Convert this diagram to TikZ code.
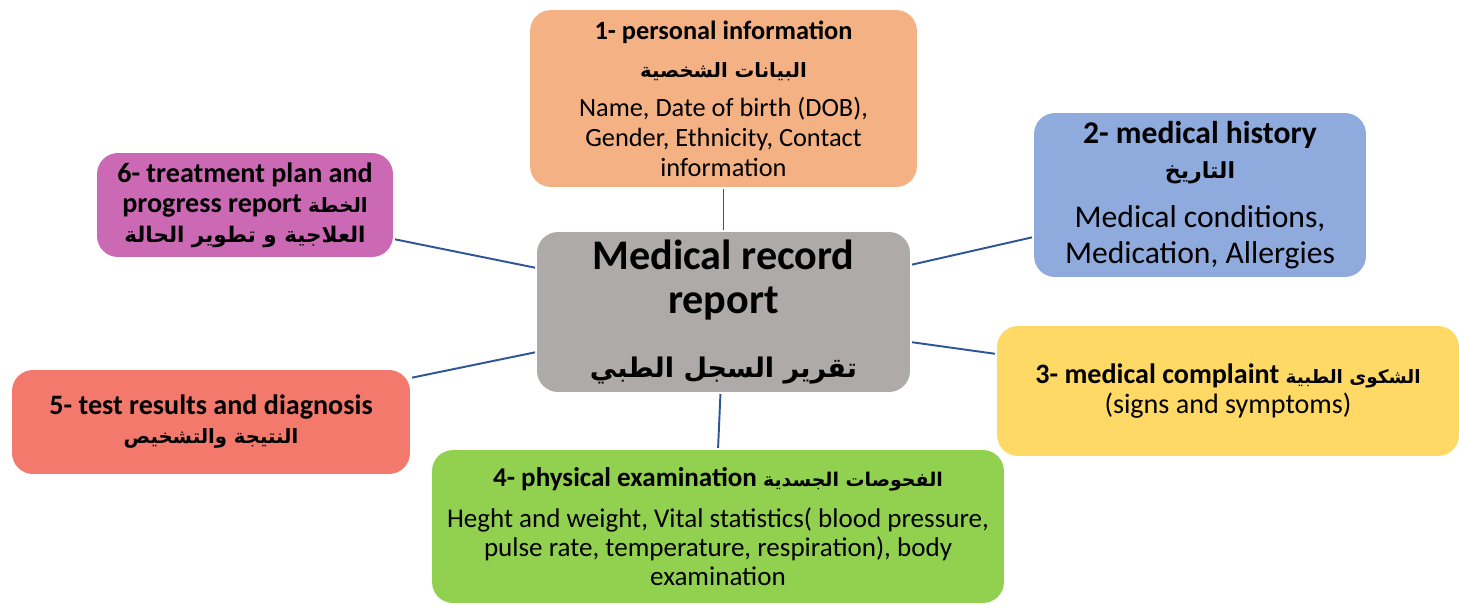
\documentclass[tikz,border=0pt]{standalone}
\usepackage{fontspec}
\setmainfont{Carlito}
\newfontfamily\arabicfont[Script=Arabic,Scale=0.7]{DejaVu Sans}
\TeXXeTstate=1
\usepackage{xcolor}
\usepackage{tikz}
\definecolor{persfill}{HTML}{F4B183}
\definecolor{histfill}{HTML}{8FAADC}
\definecolor{cmplfill}{HTML}{FFD966}
\definecolor{examfill}{HTML}{92D050}
\definecolor{testfill}{HTML}{F2796C}
\definecolor{planfill}{HTML}{CC69B4}
\definecolor{recfill}{HTML}{AEAAAA}
\definecolor{linkblue}{HTML}{2F5597}
\newcommand{\artxt}[1]{{\arabicfont\bfseries\beginR #1\endR}}
\tikzset{
  box/.style={rounded corners=0.42cm, align=center, inner sep=0pt, text=black},
  fsz/.style 2 args={font=\fontsize{#1}{#2}\selectfont},
  link/.style={line width=1.1pt, draw=linkblue, shorten <=1pt, shorten >=1pt}
}

\begin{document}
\begin{tikzpicture}[x=0.02cm, y=-0.02cm]
  \useasboundingbox[fill=white] (0,0) rectangle (1459,605);
  \node[box, fsz={24}{25.5}, fill=recfill, minimum width=7.46cm, minimum height=3.2cm] (rec) at (723.5,312)
    {\textbf{Medical record}\\\textbf{report}\\[11pt] \artxt{\fontsize{22}{25}\selectfont تقرير السجل الطبي}};
  \node[box, fsz={15}{17}, fill=persfill, minimum width=7.74cm, minimum height=3.54cm] (pers) at (723.5,98.5)
    {\textbf{1- personal information}\\[5pt] \artxt{\fontsize{16}{17}\selectfont البيانات الشخصية}\\[5pt]
     Name, Date of birth (DOB),\\ Gender, Ethnicity, Contact\\ information};
  \node[box, fsz={18}{20}, fill=histfill, minimum width=6.64cm, minimum height=3.28cm] (hist) at (1200,195)
    {\textbf{2- medical history}\\ \artxt{التاريخ}\\[8pt]
     Medical conditions,\\ Medication, Allergies};
  \node[box, fsz={16}{17}, fill=cmplfill, minimum width=9.24cm, minimum height=2.6cm] (cmpl) at (1228,391)
    {\textbf{3- medical complaint} \artxt{\fontsize{15}{17}\selectfont الشكوى الطبية}\\ (signs and symptoms)};
  \node[box, fsz={15.4}{16.5}, fill=examfill, minimum width=11.44cm, minimum height=3.06cm] (exam) at (718,526.5)
    {\textbf{4- physical examination} \artxt{الفحوصات الجسدية}\\[7pt]
     Heght and weight, Vital statistics( blood pressure,\\ pulse rate, temperature, respiration), body\\ examination};
  \node[box, fsz={16}{16.5}, fill=testfill, minimum width=7.96cm, minimum height=2.08cm] (test) at (211,422)
    {\textbf{5- test results and diagnosis}\\ \artxt{النتيجة والتشخيص}};
  \node[box, fsz={16}{17}, fill=planfill, minimum width=5.92cm, minimum height=2.08cm] (plan) at (245,205)
    {\textbf{6- treatment plan and}\\ \textbf{progress report} \artxt{الخطة}\\ \artxt{\fontsize{17.5}{17}\selectfont العلاجية و تطوير الحالة}};
  \draw[link] (rec.north) -- (pers.south);
  \draw[link] ([yshift=0.94cm]rec.east) -- ([yshift=-0.84cm]hist.west);
  \draw[link] ([yshift=-0.6cm]rec.east) -- ([yshift=0.74cm]cmpl.west);
  \draw[link] ([xshift=-0.06cm]rec.south) -- (exam.north);
  \draw[link] ([yshift=-0.8cm]rec.west) -- ([yshift=0.88cm]test.east);
  \draw[link] ([yshift=0.88cm]rec.west) -- ([yshift=-0.68cm]plan.east);
\end{tikzpicture}
\end{document}
